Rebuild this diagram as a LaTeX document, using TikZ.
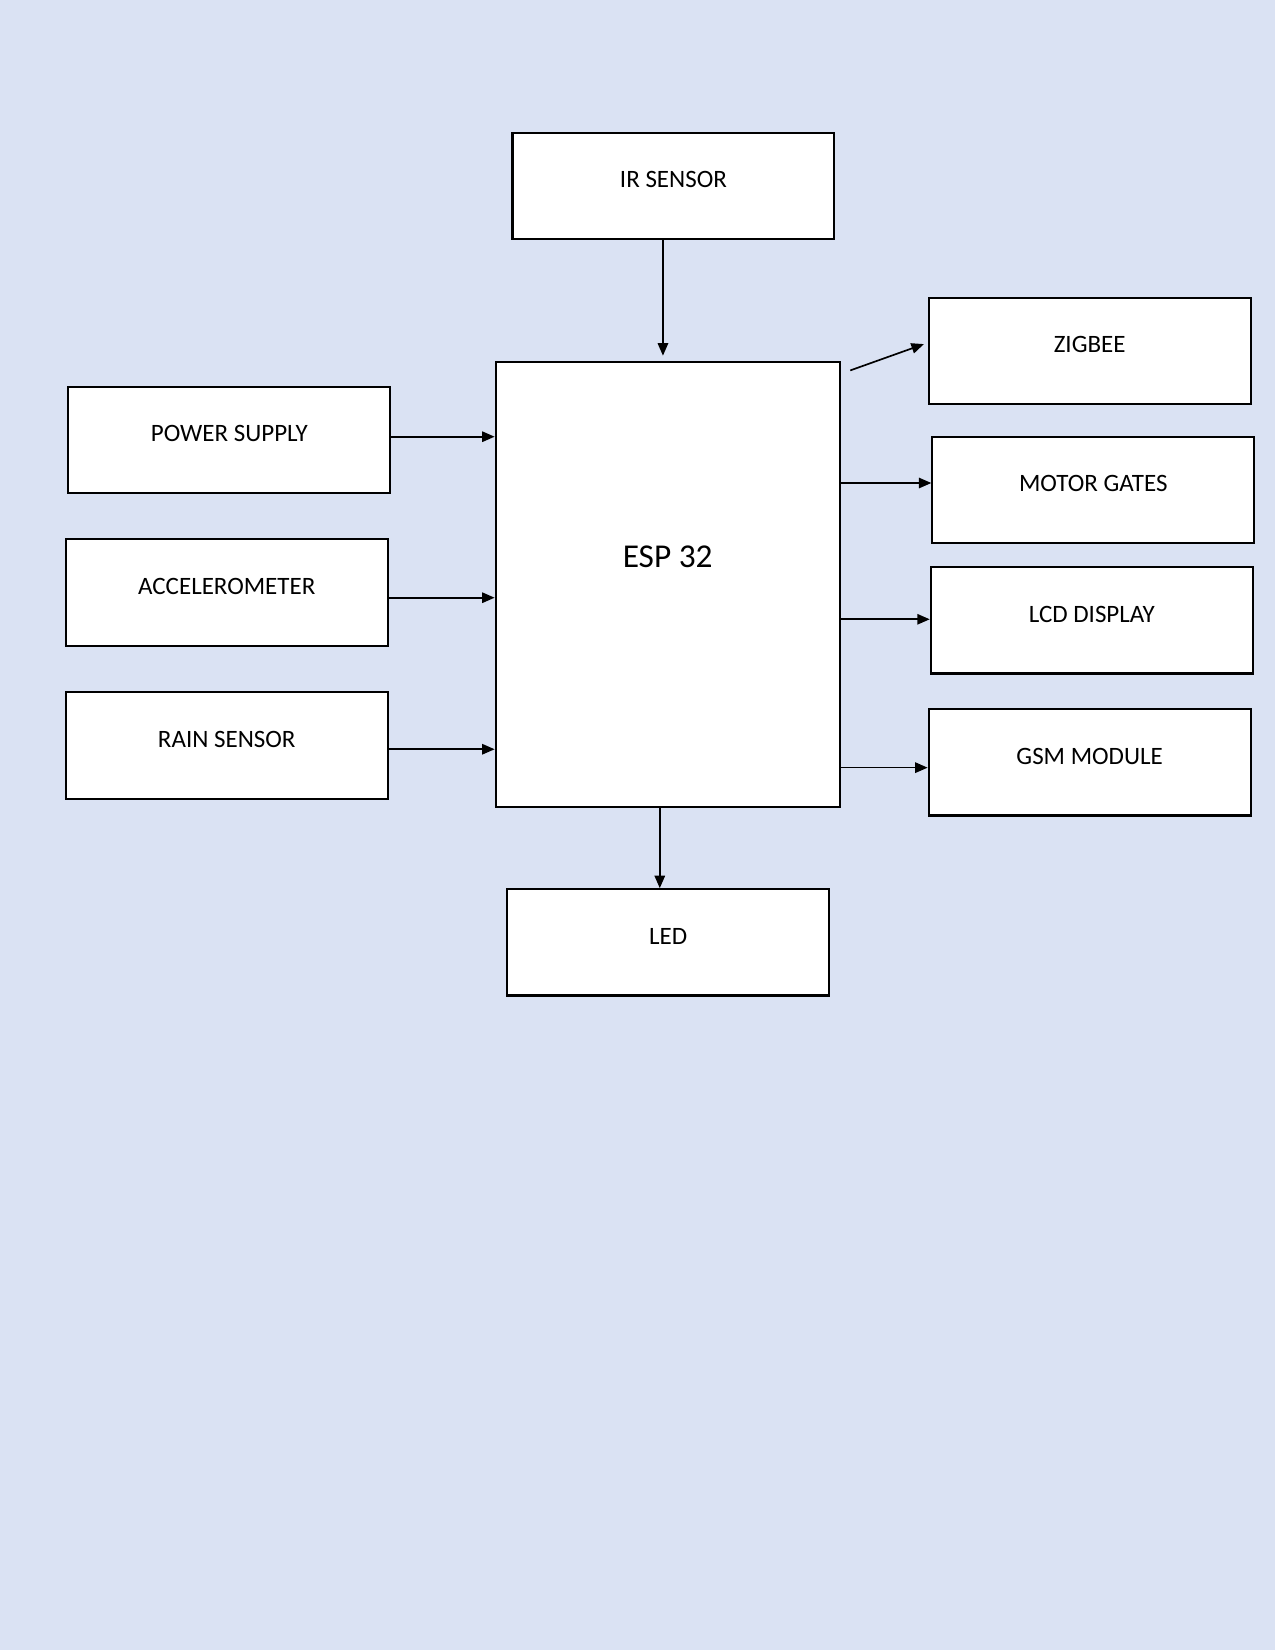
\documentclass[tikz,border=0pt]{standalone}
\usepackage{fontspec}
\setmainfont{Carlito}
\usetikzlibrary{arrows.meta}
\definecolor{bgblue}{RGB}{218,226,243}
\begin{document}
\begin{tikzpicture}[x=0.505pt,y=-0.505pt,
  box/.style={draw=black,line width=1pt,fill=white,inner sep=0pt,
    minimum width=154.5pt,minimum height=51pt,font=\fontsize{12}{14}\selectfont,
    text height=7.6pt,text depth=6pt},
  arr/.style={line width=0.8pt,-{Triangle[length=6pt,width=5pt]}}]
\fill[bgblue] (0,0) rectangle (1212,1568);
\useasboundingbox (0,0) rectangle (1212,1568);

\node[box] (ir) at (640,177) {IR SENSOR};
\node[box] (zb) at (1035.5,333.5) {ZIGBEE};
\node[box] (ps) at (218,418) {POWER SUPPLY};
\node[box] (mg) at (1039,465.5) {MOTOR GATES};
\node[box,minimum width=165.1pt,minimum height=213.6pt,
  font=\fontsize{16}{19}\selectfont,text height=10.1pt,text depth=26.8pt] (esp) at (634.5,555.5) {ESP 32};
\node[box] (acc) at (215.5,563) {ACCELEROMETER};
\node[box] (lcd) at (1037.5,589.5) {LCD DISPLAY};
\node[box] (rain) at (215.5,708.5) {RAIN SENSOR};
\node[box] (gsm) at (1035.5,724.5) {GSM MODULE};
\node[box] (led) at (635,895.5) {LED};

\coordinate (irtip) at (630,338);
\coordinate (zs) at (808,352);
\coordinate (zt) at (878,327);
\coordinate (psy) at (0,415);
\coordinate (accy) at (0,568);
\coordinate (rainy) at (0,712);
\coordinate (mgy) at (0,459);
\coordinate (lcdy) at (0,588.5);
\coordinate (gsmy) at (0,729.5);
\coordinate (ledx) at (627,0);

\draw[arr] (ir.south -| irtip) -- (irtip);
\draw[arr] (zs) -- (zt);
\draw[arr] (ps.east |- psy) -- (esp.west |- psy);
\draw[arr] (acc.east |- accy) -- (esp.west |- accy);
\draw[arr] (rain.east |- rainy) -- (esp.west |- rainy);
\draw[arr] (esp.east |- mgy) -- (mg.west |- mgy);
\draw[arr] (esp.east |- lcdy) -- (lcd.west |- lcdy);
\draw[arr] (esp.east |- gsmy) -- (gsm.west |- gsmy);
\draw[arr] (esp.south -| ledx) -- (led.north -| ledx);
\end{tikzpicture}
\end{document}
